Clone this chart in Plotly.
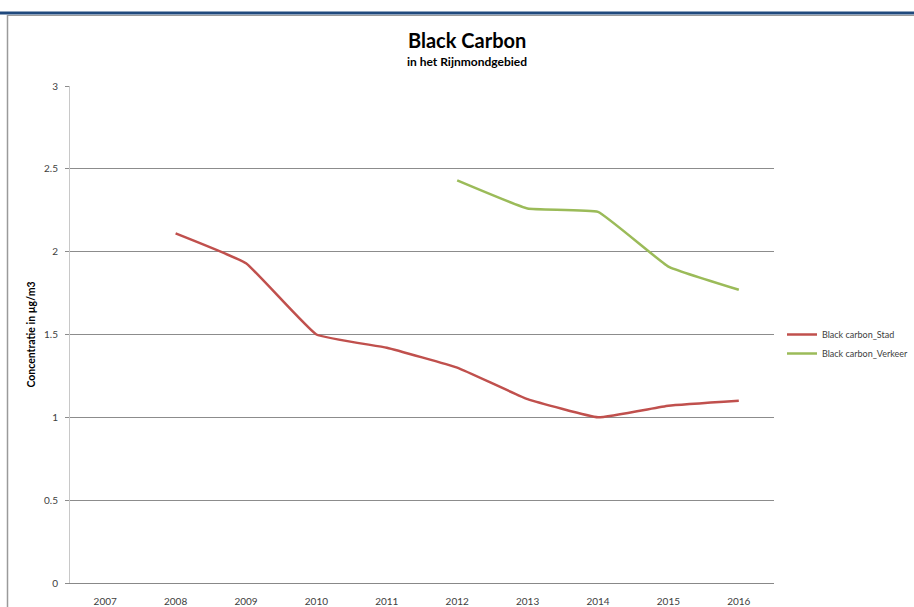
import plotly.graph_objects as go

years = ["2007", "2008", "2009", "2010", "2011", "2012", "2013", "2014", "2015", "2016"]
stad = [None, 2.11, 1.93, 1.50, 1.42, 1.30, 1.11, 1.00, 1.07, 1.10]
verkeer = [None, None, None, None, None, 2.43, 2.26, 2.24, 1.91, 1.77]
y_ticks = [0, 0.5, 1, 1.5, 2, 2.5, 3]
y_tick_labels = ["0", "0.5", "1", "1.5", "2", "2.5", "3"]

W, H = 914, 607
L, R, T, B = 70, 140, 86, 24
pw, ph = W - L - R, H - T - B

def px_x(x):
    return (x - L) / pw

def px_y(y):
    return (H - B - y) / ph

FONT = "Lato, 'Open Sans', sans-serif"

fig = go.Figure()
fig.add_trace(go.Scatter(x=years, y=stad, mode="lines", name="Black carbon_Stad",
                         line=dict(color="#C0504D", width=2.5, shape="spline", smoothing=0.3)))
fig.add_trace(go.Scatter(x=years, y=verkeer, mode="lines", name="Black carbon_Verkeer",
                         line=dict(color="#9BBB59", width=2.5, shape="spline", smoothing=0.3)))

fig.update_layout(
    width=W, height=H,
    margin=dict(l=L, r=R, t=T, b=B),
    paper_bgcolor="white", plot_bgcolor="white",
    font=dict(family=FONT, size=10, color="#333333"),
    showlegend=True,
    legend=dict(xref="container", yref="container", x=782 / W, y=1 - 320 / H,
                xanchor="left", yanchor="top",
                font=dict(size=9, color="#404040"), tracegroupgap=2,
                bgcolor="rgba(0,0,0,0)", itemwidth=30),
    xaxis=dict(type="category", categoryorder="array", categoryarray=years,
               range=[-0.5, 9.5], showgrid=False, showline=True, linecolor="#888888",
               linewidth=1, ticks="", tickfont=dict(size=10, color="#404040"),
               ticklabelstandoff=9, fixedrange=True, zeroline=False, automargin=False),
    yaxis=dict(range=[0, 3], tickvals=y_ticks, ticktext=y_tick_labels,
               showgrid=True, gridcolor="#8C8C8C", gridwidth=1,
               showline=True, linecolor="#C8C8C8", linewidth=1,
               ticks="outside", ticklen=4, tickcolor="#8C8C8C",
               tickfont=dict(size=10, color="#404040"), zeroline=False,
               ticklabelstandoff=5, automargin=False,
               title=dict(text="<b>Concentratie in µg/m3</b>", font=dict(size=10.5, color="#000000"),
                          standoff=6)),
)

fig.add_annotation(text="<b>Black Carbon</b>", xref="paper", yref="paper",
                   x=px_x(467), y=px_y(40), showarrow=False, yanchor="middle",
                   font=dict(size=20, color="#000000", family=FONT))
fig.add_annotation(text="<b>in het Rijnmondgebied</b>", xref="paper", yref="paper",
                   x=px_x(467), y=px_y(62), showarrow=False, yanchor="middle",
                   font=dict(size=12, color="#000000", family=FONT))

# frame lines
fig.add_shape(type="line", xref="paper", yref="paper", x0=px_x(0), x1=px_x(914),
              y0=px_y(13), y1=px_y(13), line=dict(color="#1F497D", width=3))
fig.add_shape(type="line", xref="paper", yref="paper", x0=px_x(7), x1=px_x(914),
              y0=px_y(15.5), y1=px_y(15.5), line=dict(color="#9A9A9A", width=1))
fig.add_shape(type="line", xref="paper", yref="paper", x0=px_x(7.5), x1=px_x(7.5),
              y0=px_y(15), y1=px_y(607), line=dict(color="#9A9A9A", width=1.5))

fig.write_html("out.html")
